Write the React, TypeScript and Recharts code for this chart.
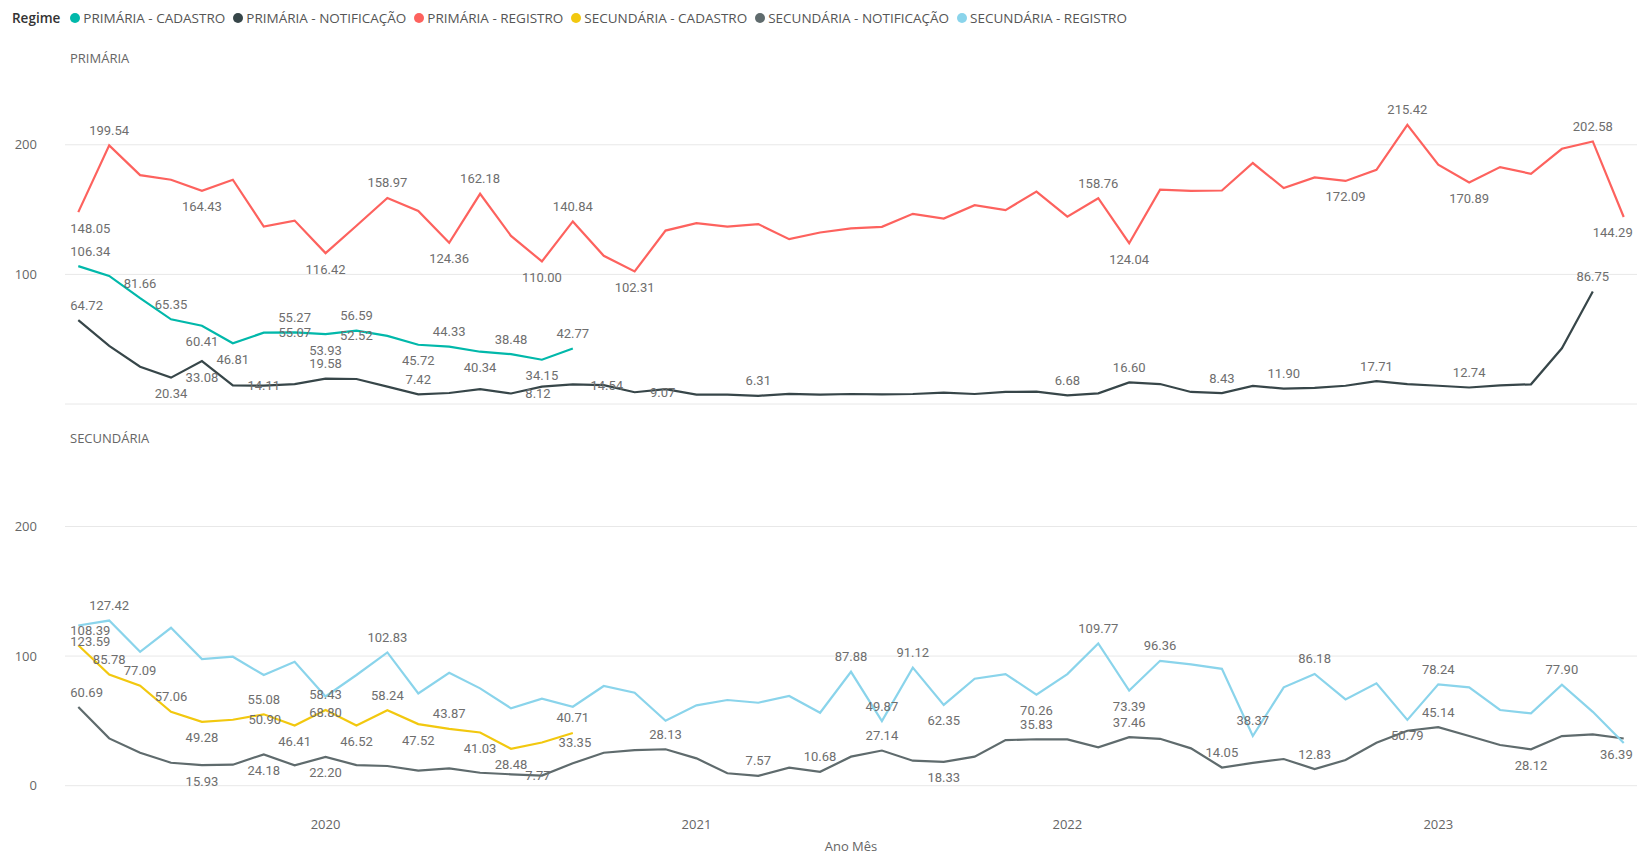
import React from 'react'
import { CartesianGrid, Line, LineChart, XAxis, YAxis } from 'recharts'

// Ano Mês, May 2019 .. Jul 2023
const months = [
  '2019-05', '2019-06', '2019-07', '2019-08', '2019-09', '2019-10', '2019-11', '2019-12',
  '2020-01', '2020-02', '2020-03', '2020-04', '2020-05', '2020-06', '2020-07', '2020-08',
  '2020-09', '2020-10', '2020-11', '2020-12', '2021-01', '2021-02', '2021-03', '2021-04',
  '2021-05', '2021-06', '2021-07', '2021-08', '2021-09', '2021-10', '2021-11', '2021-12',
  '2022-01', '2022-02', '2022-03', '2022-04', '2022-05', '2022-06', '2022-07', '2022-08',
  '2022-09', '2022-10', '2022-11', '2022-12', '2023-01', '2023-02', '2023-03', '2023-04',
  '2023-05', '2023-06', '2023-07',
]

const primCadastro = [
  106.34, 98.8, 81.66, 65.35, 60.41, 46.81, 55.07, 55.27, 53.93, 56.59, 52.52, 45.72, 44.33,
  40.34, 38.48, 34.15, 42.77,
]
const primNotificacao = [
  64.72, 44.8, 28.8, 20.34, 33.08, 14.4, 14.11, 15.4, 19.58, 19.3, 13.4, 7.42, 8.5, 11.4, 8.12,
  13.4, 15.2, 14.54, 9.07, 11.4, 7.2, 7.2, 6.31, 7.8, 7.3, 7.7, 7.5, 7.7, 8.7, 7.7, 9.3, 9.5,
  6.68, 8.2, 16.6, 15.4, 9.3, 8.43, 13.9, 11.9, 12.4, 14.1, 17.71, 15.4, 14.1, 12.74, 14.4,
  15.2, 43, 86.75,
]
const primRegistro = [
  148.05, 199.54, 176.6, 173, 164.43, 173, 136.9, 141.5, 116.42, 137.5, 158.97, 149, 124.36,
  162.18, 129.7, 110.0, 140.84, 114.3, 102.31, 133.8, 139.5, 136.9, 138.8, 127.2, 132.3, 135.5,
  136.7, 146.7, 143.1, 153.4, 149.6, 163.9, 144.6, 158.76, 124.04, 165.3, 164.5, 164.7, 185.9,
  166.6, 174.8, 172.09, 180.7, 215.42, 184.6, 170.89, 182.8, 177.6, 196.9, 202.58, 144.29,
]
const secCadastro = [
  108.39, 85.78, 77.09, 57.06, 49.28, 50.9, 55.08, 46.41, 58.43, 46.52, 58.24, 47.52, 43.87,
  41.03, 28.48, 33.35, 40.71,
]
const secNotificacao = [
  60.69, 36.5, 25.4, 17.7, 15.93, 16.2, 24.18, 15.7, 22.2, 15.9, 15.2, 11.6, 13.4, 10, 8.8, 7.77,
  17.3, 25.4, 27.5, 28.13, 21.1, 9.6, 7.57, 13.9, 10.68, 22.4, 27.14, 19.3, 18.33, 22.4, 35.2,
  35.83, 35.7, 29.6, 37.46, 36.2, 28.8, 14.05, 17.6, 20.6, 12.83, 19.8, 33.2, 42.4, 45.14, 38.3,
  31.4, 28.12, 38.3, 39.6, 36.39,
]
const secRegistro = [
  123.59, 127.42, 103.3, 121.8, 97.7, 99.5, 85.4, 95.6, 68.8, 85.4, 102.83, 71.2, 87.1, 75.1,
  59.7, 67.1, 60.9, 76.9, 71.7, 50.1, 62, 66.1, 64, 69.2, 56.3, 87.88, 49.87, 91.12, 62.35, 82.5,
  86.1, 70.26, 86.1, 109.77, 73.39, 96.36, 93.6, 90.2, 38.37, 75.9, 86.18, 66.6, 79, 50.79, 78.24,
  75.9, 58.4, 55.8, 77.9, 57, 33,
]

const yTicks = [0, 100, 200]
const Y_MAX = 260

// which points carry a data label: [index, above/below/centre, x nudge]
type Spot = [number, 'a' | 'b' | 'c', number?]
const primCadastroLabels: Spot[] = [
  [0, 'a'], [2, 'a'], [3, 'a'], [4, 'b'], [5, 'b'], [6, 'c', 31], [7, 'a'], [8, 'b'], [9, 'a'],
  [10, 'c', -31], [11, 'b'], [12, 'a'], [13, 'b'], [14, 'a'], [15, 'b'], [16, 'a'],
]
const primNotificacaoLabels: Spot[] = [
  [0, 'a'], [3, 'b'], [4, 'b'], [6, 'c'], [8, 'a'], [11, 'a'], [14, 'c', 27], [17, 'c', 3],
  [18, 'c', 28], [22, 'a'], [32, 'a'], [34, 'a'], [37, 'a'], [39, 'a'], [42, 'a'], [45, 'a'],
  [49, 'a'],
]
const primRegistroLabels: Spot[] = [
  [0, 'b'], [1, 'a'], [4, 'b'], [8, 'b'], [10, 'a'], [12, 'b'], [13, 'a'], [15, 'b'], [16, 'a'],
  [18, 'b'], [33, 'a'], [34, 'b'], [41, 'b'], [43, 'a'], [45, 'b'], [49, 'a'], [50, 'b'],
]
const secCadastroLabels: Spot[] = [
  [0, 'a'], [1, 'a'], [2, 'a'], [3, 'a'], [4, 'b'], [5, 'c', 32], [6, 'a'], [7, 'b'], [8, 'a'],
  [9, 'b'], [10, 'a'], [11, 'b'], [12, 'a'], [13, 'b'], [14, 'b'], [15, 'c', 33], [16, 'a'],
]
const secNotificacaoLabels: Spot[] = [
  [0, 'a'], [4, 'b'], [6, 'b'], [8, 'b'], [15, 'c', -4], [19, 'a'], [22, 'a'], [24, 'a'],
  [26, 'a'], [28, 'b'], [31, 'a'], [34, 'a'], [37, 'a'], [40, 'a'], [44, 'a'], [47, 'b'],
  [50, 'b'],
]
const secRegistroLabels: Spot[] = [
  [0, 'b'], [1, 'a'], [8, 'b'], [10, 'a'], [25, 'a'], [26, 'a'], [27, 'a'], [28, 'b'], [31, 'b'],
  [33, 'a'], [34, 'b'], [35, 'a'], [38, 'a'], [40, 'a'], [43, 'b'], [44, 'a'], [48, 'a'],
]

const rows = months.map((m, i) => ({
  idx: i,
  month: m,
  primCadastro: primCadastro[i],
  primNotificacao: primNotificacao[i],
  primRegistro: primRegistro[i],
  secCadastro: secCadastro[i],
  secNotificacao: secNotificacao[i],
  secRegistro: secRegistro[i],
}))

const yearTicks = months.map((m, i) => (m.endsWith('-01') ? i : -1)).filter((i) => i >= 0)

const COLORS = {
  primCadastro: '#01B8AA',
  primNotificacao: '#374649',
  primRegistro: '#FD625E',
  secCadastro: '#F2C80F',
  secNotificacao: '#5F6B6D',
  secRegistro: '#8AD4EB',
}

const legendItems = [
  { name: 'PRIMÁRIA - CADASTRO', color: COLORS.primCadastro },
  { name: 'PRIMÁRIA - NOTIFICAÇÃO', color: COLORS.primNotificacao },
  { name: 'PRIMÁRIA - REGISTRO', color: COLORS.primRegistro },
  { name: 'SECUNDÁRIA - CADASTRO', color: COLORS.secCadastro },
  { name: 'SECUNDÁRIA - NOTIFICAÇÃO', color: COLORS.secNotificacao },
  { name: 'SECUNDÁRIA - REGISTRO', color: COLORS.secRegistro },
]

const UI_FONT = '"Open Sans", "Noto Sans", sans-serif'
const X_DOMAIN: [number, number] = [-0.43, months.length - 1 + 0.43]
const last = months.length - 1

const makeLabel = (spots: Spot[]) => (props: any) => {
  const x = props.x ?? props.viewBox?.x
  const y = props.y ?? props.viewBox?.y
  const { value, index } = props
  const spot = spots.find((s) => s[0] === index)
  if (!spot || value == null || x == null) return null
  const [, pos, dx = 0] = spot
  let anchor: 'start' | 'middle' | 'end' = 'middle'
  let lx = x + dx
  if (index === 0) {
    anchor = 'start'
    lx = x - 8
  } else if (index === last) {
    anchor = 'end'
    lx = x + 9
  }
  const dy = pos === 'a' ? -15 : pos === 'b' ? 16 : 0
  return (
    <text
      key={`lbl-${index}`}
      x={lx}
      y={y + dy}
      textAnchor={anchor}
      dominantBaseline="central"
      fontSize={13}
      fontFamily="Roboto, sans-serif"
      fill="#6e6e6e"
    >
      {Number(value).toFixed(2)}
    </text>
  )
}

const series = (key: keyof typeof COLORS, spots: Spot[]) => (
  <Line
    key={key}
    type="linear"
    dataKey={key}
    stroke={COLORS[key]}
    strokeWidth={2.2}
    dot={false}
    activeDot={false}
    isAnimationActive={false}
    label={makeLabel(spots)}
  />
)

// grid only at the y ticks, nothing at the plot's top edge
const gridAtTicks = ({ offset }: any) =>
  yTicks.map((t) => offset.top + offset.height * (1 - t / Y_MAX))

const axisTick = { fontSize: 13, fill: '#666', fontFamily: UI_FONT }

const panelTitle: React.CSSProperties = {
  position: 'absolute',
  left: 70,
  fontSize: 13,
  color: '#666',
  fontFamily: UI_FONT,
  lineHeight: '18px',
}

export default function App() {
  return (
    <div
      style={{
        position: 'absolute',
        left: 0,
        top: 0,
        width: 1637,
        height: 855,
        background: '#fff',
        overflow: 'hidden',
        fontFamily: UI_FONT,
      }}
    >
      {/* legend */}
      <div
        style={{
          position: 'absolute',
          left: 12,
          top: 9,
          display: 'flex',
          alignItems: 'center',
          fontSize: 13.5,
          lineHeight: '18px',
          color: '#555',
          whiteSpace: 'nowrap',
        }}
      >
        <span style={{ fontWeight: 600, color: '#333', marginRight: 10 }}>Regime</span>
        {legendItems.map((it) => (
          <span key={it.name} style={{ display: 'flex', alignItems: 'center', marginRight: 8 }}>
            <span
              style={{
                width: 10,
                height: 10,
                borderRadius: 5,
                background: it.color,
                marginRight: 3,
                display: 'inline-block',
              }}
            />
            {it.name}
          </span>
        ))}
      </div>

      <div style={{ ...panelTitle, top: 49 }}>PRIMÁRIA</div>
      <div style={{ ...panelTitle, top: 429 }}>SECUNDÁRIA</div>

      <div style={{ position: 'absolute', left: 0, top: 0 }}>
        <LineChart width={1637} height={410} data={rows} margin={{ top: 67, right: 0, bottom: 6, left: 0 }}>
          <CartesianGrid vertical={false} stroke="#e8e8e8" horizontalCoordinatesGenerator={gridAtTicks} />
          <XAxis dataKey="idx" type="number" domain={X_DOMAIN} hide />
          <YAxis
            type="number"
            domain={[0, Y_MAX]}
            ticks={yTicks}
            width={65}
            axisLine={false}
            tickLine={false}
            tickMargin={22}
            tick={axisTick}
          />
          {series('primCadastro', primCadastroLabels)}
          {series('primNotificacao', primNotificacaoLabels)}
          {series('primRegistro', primRegistroLabels)}
        </LineChart>
      </div>

      <div style={{ position: 'absolute', left: 0, top: 440 }}>
        <LineChart width={1637} height={415} data={rows} margin={{ top: 8.7, right: 0, bottom: 0, left: 0 }}>
          <CartesianGrid vertical={false} stroke="#e8e8e8" horizontalCoordinatesGenerator={gridAtTicks} />
          <XAxis
            dataKey="idx"
            type="number"
            domain={X_DOMAIN}
            ticks={yearTicks}
            interval={0}
            height={69.3}
            axisLine={false}
            tickLine={false}
            tickMargin={28}
            tick={axisTick}
            tickFormatter={(i: number) => months[i].slice(0, 4)}
            label={{ value: 'Ano Mês', position: 'insideBottom', offset: 4, fill: '#666', fontSize: 13, fontFamily: UI_FONT }}
          />
          <YAxis
            type="number"
            domain={[0, Y_MAX]}
            ticks={yTicks}
            width={65}
            axisLine={false}
            tickLine={false}
            tickMargin={22}
            tick={axisTick}
          />
          {series('secCadastro', secCadastroLabels)}
          {series('secNotificacao', secNotificacaoLabels)}
          {series('secRegistro', secRegistroLabels)}
        </LineChart>
      </div>
    </div>
  )
}
